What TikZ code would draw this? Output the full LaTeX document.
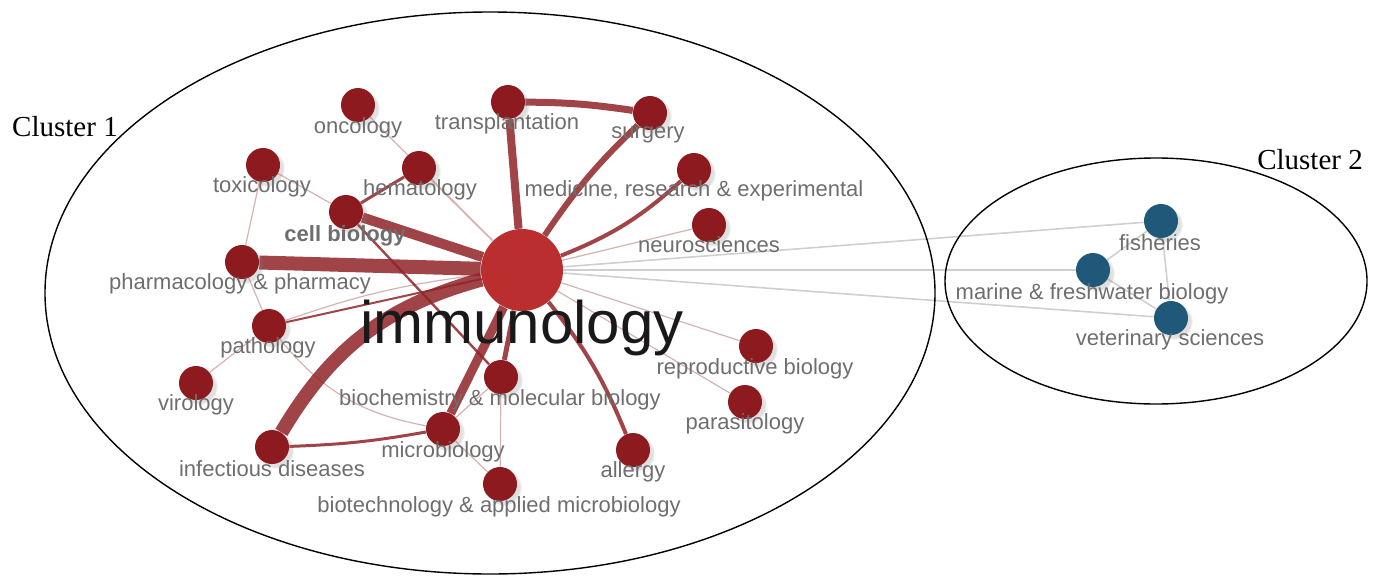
\documentclass[tikz,border=0pt]{standalone}
\usepackage{fontspec}
\setmainfont{Liberation Serif}
\newfontfamily\labelfont{Liberation Sans}
\usepackage{tikz}
\usetikzlibrary{positioning,shadows,backgrounds}
\definecolor{NodeRed}{HTML}{8C1A1E}
\definecolor{HubRed}{HTML}{B3171A}
\definecolor{TieRed}{HTML}{8F2328}
\definecolor{FaintRed}{HTML}{D6B2B2}
\definecolor{TieGray}{HTML}{CFCFCF}
\definecolor{LabelGray}{HTML}{6E6E6E}
\definecolor{NodeTeal}{HTML}{1F5878}

\begin{document}
\begin{tikzpicture}[x=0.5pt, y=-0.5pt,
  topic/.style={circle, fill=NodeRed, minimum size=17pt, inner sep=0pt,
    circular drop shadow={opacity=0.25, shadow xshift=1.5pt, shadow yshift=-1.5pt}},
  marine/.style={topic, fill=NodeTeal},
  hub/.style={circle, fill=HubRed, fill opacity=0.9, minimum size=41pt, inner sep=0pt},
  lbl/.style={font=\labelfont\fontsize{11}{13}\selectfont, text=LabelGray, inner sep=0pt},
  tie/.style={draw=TieRed, draw opacity=0.85, line width=#1},
  tie/.default=1pt,
  faint/.style={draw=FaintRed, line width=0.6pt},
  gray tie/.style={draw=TieGray, line width=0.8pt},
  cluster/.style={draw=black, line width=0.7pt}]
\useasboundingbox (0,0) rectangle (1380,578);

% clusters
\draw[cluster] (490,293) ellipse [x radius=445, y radius=281];
\draw[cluster] (1156,281) ellipse [x radius=211, y radius=123];
\node[font=\fontsize{14.5}{16}\selectfont] (c1) at (65,127) {Cluster 1};
\node[font=\fontsize{14.5}{16}\selectfont] (c2) at (1310,160) {Cluster 2};

% topics
\node[hub]   (imm) at (522,270) {};
\node[topic] (onc) at (358,105) {};
\node[topic] (tra) at (508,102) {};
\node[topic] (sur) at (650,113) {};
\node[topic] (tox) at (263,165) {};
\node[topic] (hem) at (419,168) {};
\node[topic] (med) at (694,170) {};
\node[topic] (cel) at (346,212) {};
\node[topic] (neu) at (709,225) {};
\node[topic] (pha) at (242,262) {};
\node[topic] (pat) at (269,326) {};
\node[topic] (vir) at (196,383) {};
\node[topic] (inf) at (272,447) {};
\node[topic] (mic) at (443,429) {};
\node[topic] (bio) at (501,377) {};
\node[topic] (btc) at (500,484) {};
\node[topic] (all) at (633,450) {};
\node[topic] (rep) at (756,346) {};
\node[topic] (par) at (745,402) {};
\node[marine] (fis) at (1161,221) {};
\node[marine] (mar) at (1093,270) {};
\node[marine] (vet) at (1171,318) {};

% links
\begin{scope}[on background layer]
\draw[gray tie] (imm) -- (fis);
\draw[gray tie] (imm) -- (mar);
\draw[gray tie] (imm) -- (vet);
\draw[gray tie] (fis) -- (mar);
\draw[gray tie] (fis) -- (vet);
\draw[gray tie] (mar) -- (vet);
\draw[faint] (onc) -- (imm);
\draw[faint] (hem) -- (imm);
\draw[faint] (tox) -- (cel);
\draw[faint] (tox) -- (pha);
\draw[faint] (pha) -- (pat);
\draw[faint] (pat) -- (vir);
\draw[faint] (pat) to[bend right=20] (mic);
\draw[faint] (neu) -- (imm);
\draw[faint] (rep) -- (imm);
\draw[faint] (par) -- (imm);
\draw[faint] (mic) -- (btc);
\draw[faint] (bio) -- (btc);
\draw[faint] (mic) -- (bio);
\draw[faint] (pat) to[bend left=6] (imm);
\draw[tie=1pt] (pat) -- (imm);
\draw[tie=1.2pt] (cel) -- (bio);
\draw[tie=1.5pt] (cel) -- (hem);
\draw[tie=1.5pt] (inf) to[bend right=4] (mic);
\draw[tie=2pt] (imm) to[bend right=10] (med);
\draw[tie=2pt] (imm) to[bend left=8] (all);
\draw[tie=2.5pt] (imm) -- (bio);
\draw[tie=3pt] (imm) to[bend left=6] (sur);
\draw[tie=3.5pt] (tra) to[bend left=4] (sur);
\draw[tie=4pt] (imm) -- (tra);
\draw[tie=4.5pt] (imm) -- (mic);
\draw[tie=5pt] (imm) -- (cel);
\draw[tie=7pt] (imm) -- (pha);
\draw[tie=7pt] (imm) to[bend right=22] (inf);
\end{scope}

% labels
\node[lbl] (l-onc) at (358,128) {oncology};
\node[lbl] (l-tra) at (507,124) {transplantation};
\node[lbl] (l-sur) at (648,135) {surgery};
\node[lbl] (l-tox) at (262,187) {toxicology};
\node[lbl] (l-hem) at (420,190) {hematology};
\node[lbl] (l-med) at (694,191) {medicine, research \& experimental};
\node[lbl, font=\labelfont\bfseries\fontsize{11}{13}\selectfont] (l-cel) at (345,236) {cell biology};
\node[lbl] (l-neu) at (709,245) {neurosciences};
\node[lbl] (l-pha) at (240,284) {pharmacology \& pharmacy};
\node[lbl] (l-pat) at (268,348) {pathology};
\node[lbl] (l-vir) at (196,405) {virology};
\node[lbl] (l-bio) at (500,400) {biochemistry \& molecular biology};
\node[lbl] (l-rep) at (755,369) {reproductive biology};
\node[lbl] (l-par) at (745,424) {parasitology};
\node[lbl] (l-mic) at (443,452) {microbiology};
\node[lbl] (l-inf) at (272,469) {infectious diseases};
\node[lbl] (l-all) at (633,472) {allergy};
\node[lbl] (l-btc) at (499,507) {biotechnology \& applied microbiology};
\node[lbl] (l-fis) at (1160,243) {fisheries};
\node[lbl] (l-mar) at (1092,294) {marine \& freshwater biology};
\node[lbl] (l-vet) at (1170,340) {veterinary sciences};
\node[font=\labelfont\fontsize{30}{32}\selectfont, text=black!90] (l-imm) at (522,328) {immunology};
\end{tikzpicture}
\end{document}
